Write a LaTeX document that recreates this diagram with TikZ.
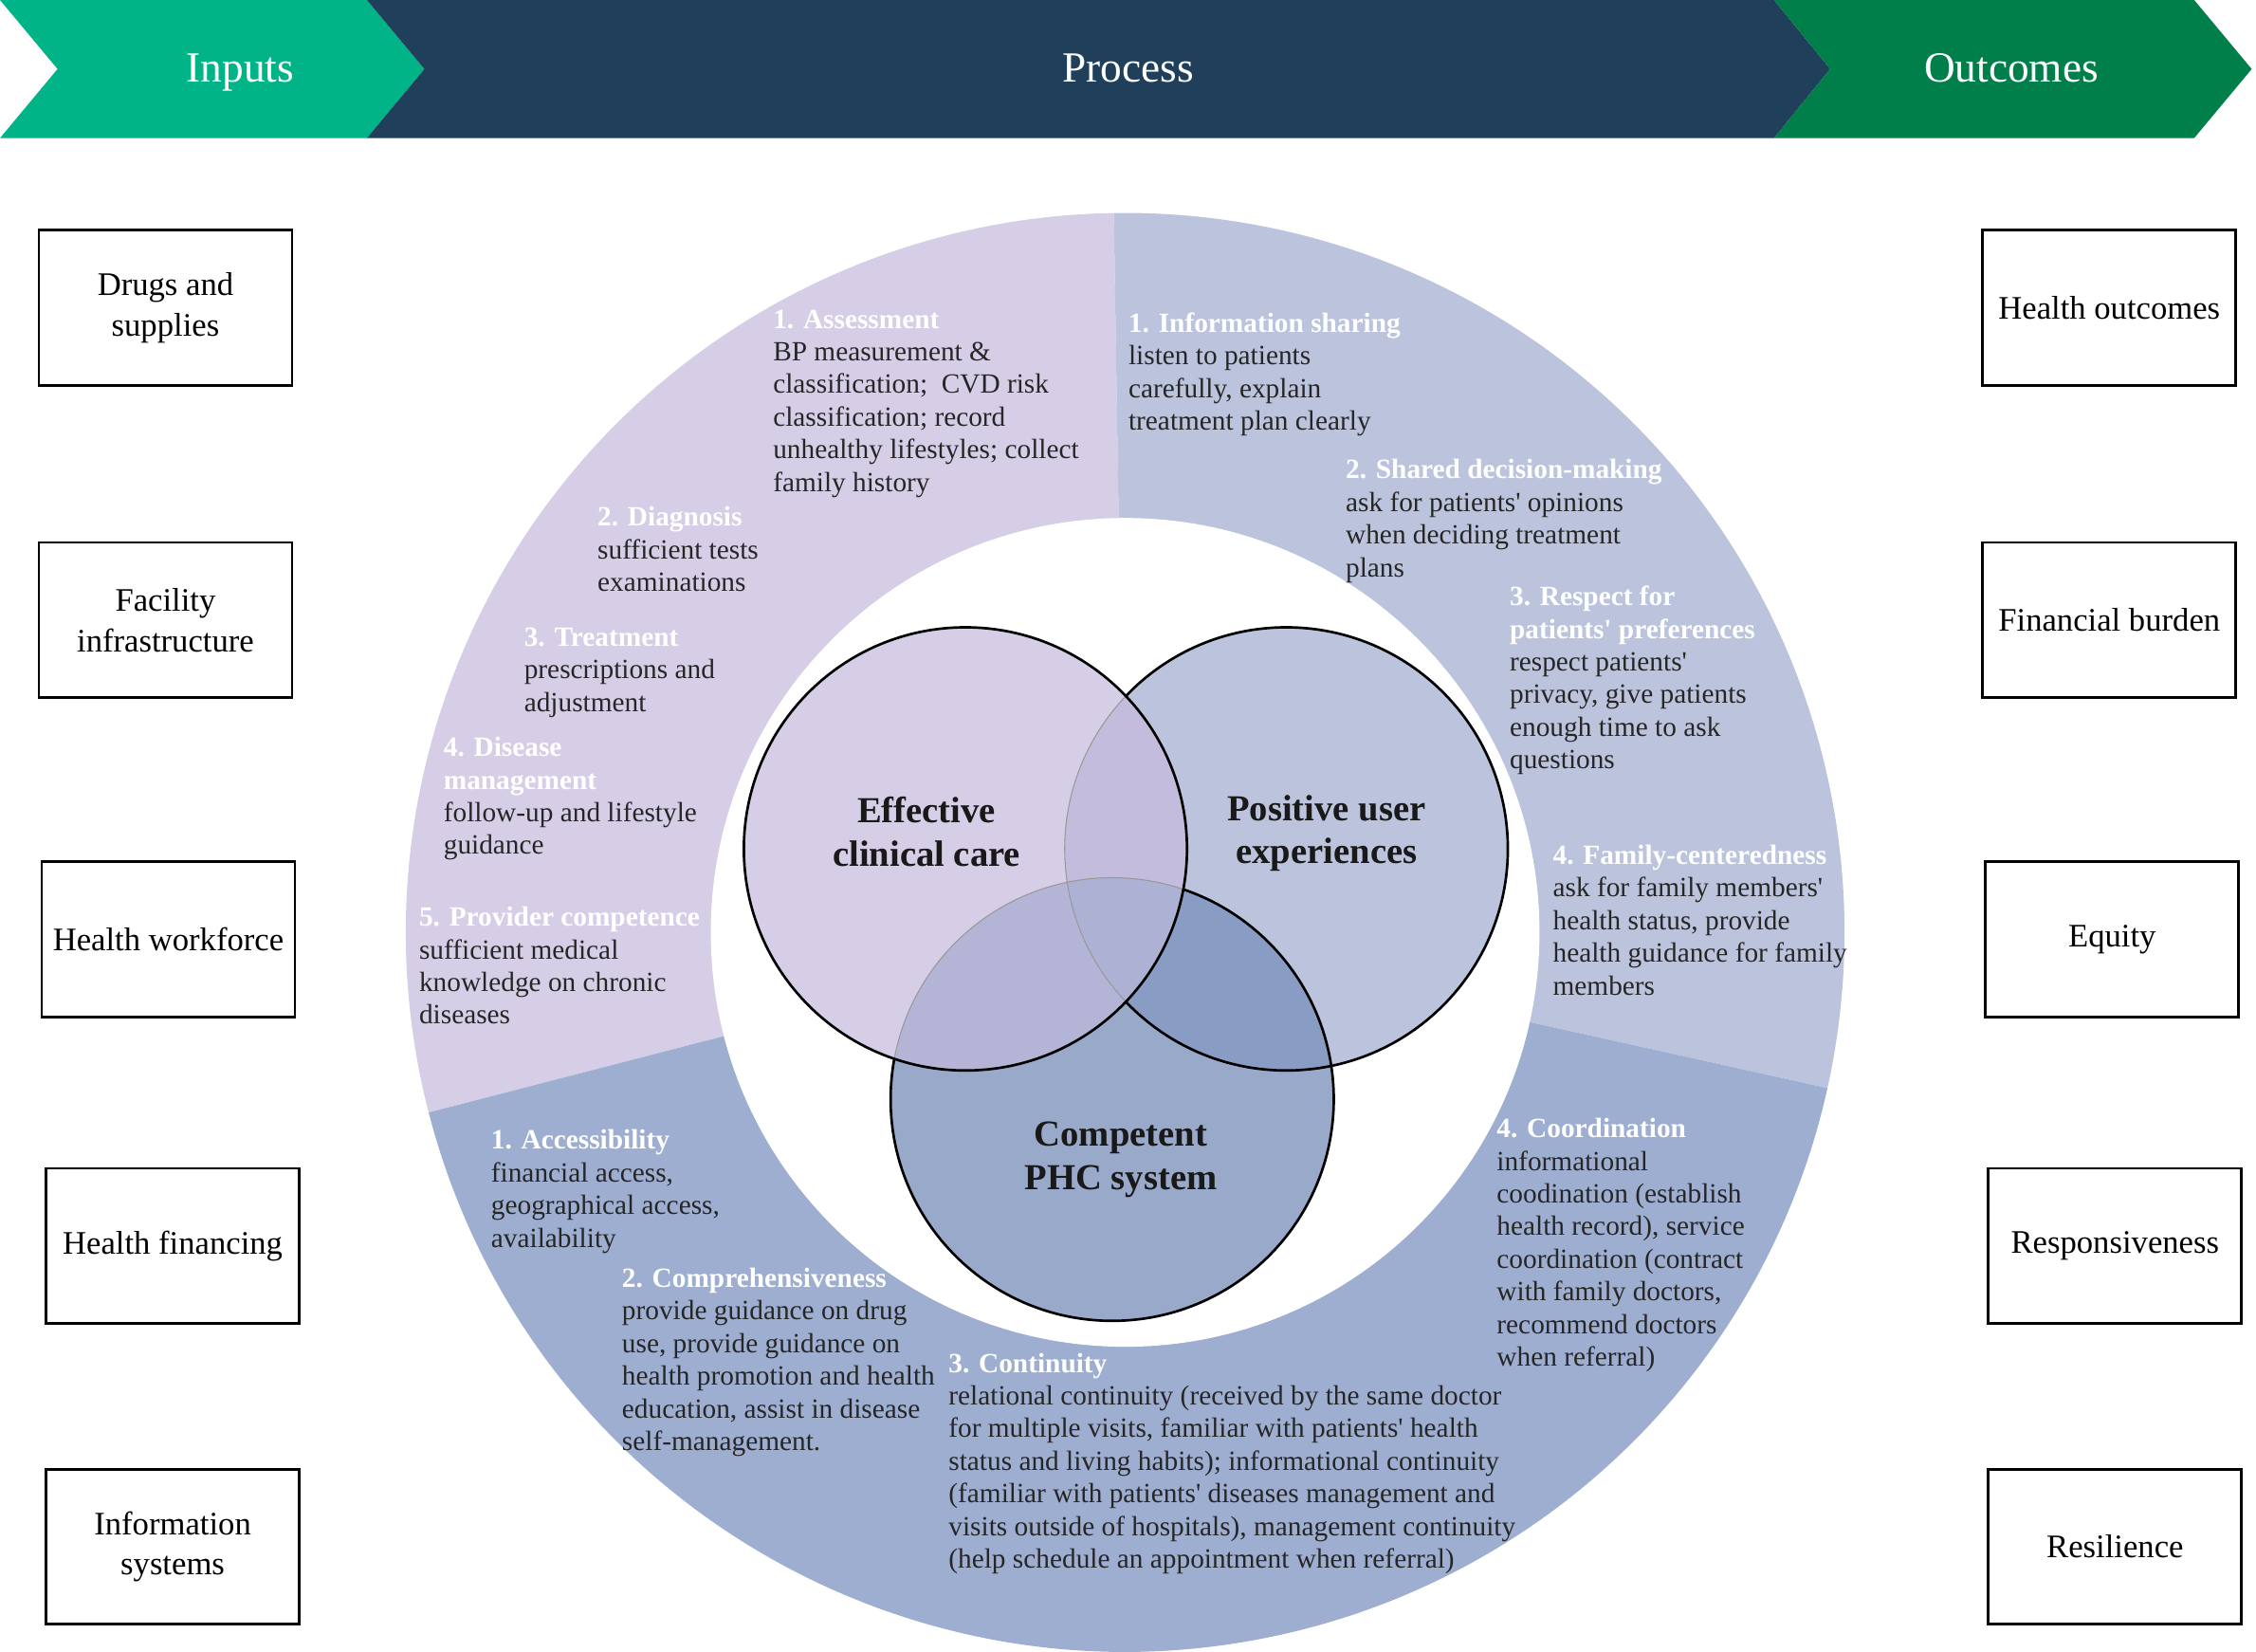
\documentclass[tikz,border=0pt]{standalone}
\usepackage{fontspec}
\setmainfont{Liberation Serif}
\definecolor{inputgreen}{HTML}{00B487}
\definecolor{processblue}{HTML}{1F3F5B}
\definecolor{outcomegreen}{HTML}{007F4B}
\definecolor{secpurple}{HTML}{D5CEE6}
\definecolor{secblue}{HTML}{BCC4DD}
\definecolor{secdeep}{HTML}{9DAED0}
\definecolor{vennab}{HTML}{C4BCDC}
\definecolor{vennac}{HTML}{B4B5D6}
\definecolor{vennbc}{HTML}{899CC4}
\definecolor{vennabc}{HTML}{ADB2D4}
\tikzset{
  inbox/.style={draw, line width=1.1pt, fill=white, minimum width=3.52cm, minimum height=2.16cm, align=center, font=\fontsize{13}{16}\selectfont},
  ringtxt/.style={anchor=north west, inner sep=0pt, align=left, text=black!85, font=\fontsize{11}{12.9}\selectfont},
  venntxt/.style={align=center, inner sep=0pt, text=black!90, font=\fontsize{14.5}{17}\selectfont\bfseries},
  hdtxt/.style={anchor=base, text=white, font=\fontsize{17}{20}\selectfont},
  vline/.style={line width=1pt, black},
  hidline/.style={line width=0.4pt, black!40},
}
\newcommand{\ringhead}[1]{\textcolor{white}{\textbf{#1}}}
\newcommand{\q}{\textquotesingle}
\newcommand{\vennfills}{%
  \fill[secpurple] (ca) circle[radius=154];
  \fill[secblue] (cb) circle[radius=154];
  \fill[secdeep!97!black] (cc) circle[radius=154];
  \begin{scope}
    \clip (ca) circle[radius=154];
    \fill[vennab] (cb) circle[radius=154];
    \fill[vennac] (cc) circle[radius=154];
  \end{scope}
  \begin{scope}
    \clip (cb) circle[radius=154];
    \fill[vennbc] (cc) circle[radius=154];
    \clip (ca) circle[radius=154];
    \fill[vennabc] (cc) circle[radius=154];
  \end{scope}}
\begin{document}
\begin{tikzpicture}[x=0.02cm, y=0.02cm]
  \useasboundingbox (0,0) rectangle (1568,-1148);

  \fill[inputgreen] (0,0) -- (255,0) -- (295,-48) -- (255,-96) -- (0,-96) -- (40,-48) -- cycle;
  \fill[processblue] (255,0) -- (1233,0) -- (1272,-48) -- (1233,-96) -- (255,-96) -- (295,-48) -- cycle;
  \fill[outcomegreen] (1233,0) -- (1525,0) -- (1565,-48) -- (1525,-96) -- (1233,-96) -- (1272,-48) -- cycle;
  \node[hdtxt] (inputs) at (167,-57) {Inputs};
  \node[hdtxt] (process) at (784,-57) {Process};
  \node[hdtxt] (outcomes) at (1398,-57) {Outcomes};

  \coordinate (ctr) at (782,-648);
  \fill[secpurple] (ctr) -- ++(90.9:500) arc[start angle=90.9, end angle=194.5, radius=500] -- cycle;
  \fill[secblue] (ctr) -- ++(-12.5:500) arc[start angle=-12.5, end angle=90.9, radius=500] -- cycle;
  \fill[secdeep] (ctr) -- ++(194.5:500) arc[start angle=194.5, end angle=347.5, radius=500] -- cycle;
  \fill[white] (ctr) circle[radius=288];

  \coordinate (ca) at (671,-590);
  \coordinate (cb) at (894,-590);
  \coordinate (cc) at (773,-764);
  \vennfills
  \draw[vline] (cb) circle[radius=154];
  \draw[vline] (cc) circle[radius=154];
  \begin{scope}
    \clip (ca) circle[radius=154];
    \vennfills
    \draw[hidline] (cb) circle[radius=154];
    \draw[hidline] (cc) circle[radius=154];
  \end{scope}
  \draw[vline] (ca) circle[radius=154];

  \node[venntxt] (effective) at (644,-578) {Effective\\clinical care};
  \node[venntxt] (positive) at (922,-579) {Positive user\\experiences};
  \node[venntxt] (competent) at (779,-806) {Competent\\PHC system};

  \node[ringtxt] (assess) at (537,-215) {\ringhead{1. Assessment}\\BP measurement \&\\classification;~ CVD risk\\classification; record\\unhealthy lifestyles; collect\\family history};
  \node[ringtxt] (diag) at (415,-352) {\ringhead{2. Diagnosis}\\sufficient tests\\examinations};
  \node[ringtxt] (treat) at (364,-436) {\ringhead{3. Treatment}\\prescriptions and\\adjustment};
  \node[ringtxt] (disease) at (308,-512) {\ringhead{4. Disease}\\\ringhead{management}\\follow-up and lifestyle\\guidance};
  \node[ringtxt] (provider) at (291,-630) {\ringhead{5. Provider competence}\\sufficient medical\\knowledge on chronic\\diseases};

  \node[ringtxt] (info) at (784,-217) {\ringhead{1. Information sharing}\\listen to patients\\carefully, explain\\treatment plan clearly};
  \node[ringtxt] (shared) at (935,-319) {\ringhead{2. Shared decision-making}\\ask for patients\q{} opinions\\when deciding treatment\\plans};
  \node[ringtxt] (respect) at (1049,-407) {\ringhead{3. Respect for}\\\ringhead{patients\q{} preferences}\\respect patients\q\\privacy, give patients\\enough time to ask\\questions};
  \node[ringtxt] (family) at (1079,-587) {\ringhead{4. Family-centeredness}\\ask for family members\q\\health status, provide\\health guidance for family\\members};

  \node[ringtxt] (access) at (341,-785) {\ringhead{1. Accessibility}\\financial access,\\geographical access,\\availability};
  \node[ringtxt] (compr) at (432,-881) {\ringhead{2. Comprehensiveness}\\provide guidance on drug\\use, provide guidance on\\health promotion and health\\education, assist in disease\\self-management.};
  \node[ringtxt] (contin) at (659,-940) {\ringhead{3. Continuity}\\relational continuity (received by the same doctor\\for multiple visits, familiar with patients\q{} health\\status and living habits); informational continuity\\(familiar with patients\q{} diseases management and\\visits outside of hospitals), management continuity\\(help schedule an appointment when referral)};
  \node[ringtxt] (coord) at (1040,-777) {\ringhead{4. Coordination}\\informational\\coodination (establish\\health record), service\\coordination (contract\\with family doctors,\\recommend doctors\\when referral)};

  \node[inbox] (drugs) at (115,-214) {Drugs and\\supplies};
  \node[inbox] (facility) at (115,-431) {Facility\\infrastructure};
  \node[inbox] (workforce) at (117,-653) {Health workforce};
  \node[inbox] (financing) at (120,-866) {Health financing};
  \node[inbox] (infosys) at (120,-1075) {Information\\systems};

  \node[inbox] (healthout) at (1466,-214) {Health outcomes};
  \node[inbox] (burden) at (1466,-431) {Financial burden};
  \node[inbox] (equity) at (1468,-653) {Equity};
  \node[inbox] (respons) at (1470,-866) {Responsiveness};
  \node[inbox] (resil) at (1470,-1075) {Resilience};
\end{tikzpicture}
\end{document}
